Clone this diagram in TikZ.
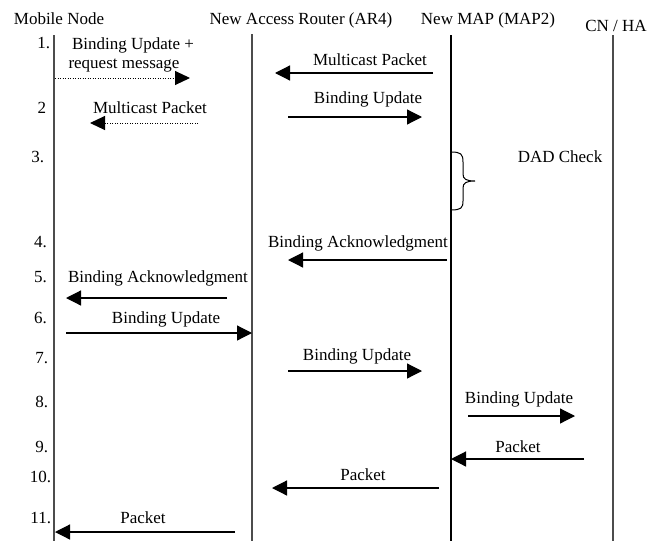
\documentclass[tikz,border=0pt]{standalone}
\usepackage{fontspec}
\setmainfont{Liberation Serif}
\usetikzlibrary{arrows.meta}
\begin{document}
\begin{tikzpicture}[x=1pt,y=-1pt,
  every node/.style={inner sep=0pt,outer sep=0pt,font=\fontsize{17}{20}\selectfont},
  lbl/.style={anchor=base},
  num/.style={anchor=base east},
  life/.style={line width=1.8pt,draw=black!70},
  lifethin/.style={line width=1.3pt,draw=black},
  msg/.style={line width=1.2pt,-{Triangle[length=15pt,width=15pt]}},
  dmsg/.style={line width=1pt,dash pattern=on 1pt off 1.5pt,-{Triangle[length=15pt,width=14pt]}}]
\useasboundingbox (0,0) rectangle (661,541);
% headers
\node[lbl] (hMN) at (59,24) {Mobile Node};
\node[lbl] (hAR) at (301,24) {New Access Router (AR4)};
\node[lbl] (hMAP) at (488,24) {New MAP (MAP2)};
\node[lbl] (hCN) at (616,31) {CN / HA};
% lifelines
\coordinate (mnT) at (54,35); \coordinate (mnB) at (54,541);
\coordinate (arT) at (252,34); \coordinate (arB) at (252,541);
\coordinate (mapT) at (451,35); \coordinate (mapB) at (451,541);
\coordinate (cnT) at (613,35); \coordinate (cnB) at (613,541);
\draw[life] (mnT) -- (mnB);
\draw[life] (arT) -- (arB);
\draw[lifethin] (mapT) -- (mapB);
\draw[life] (cnT) -- (cnB);
% step numbers
\node[num] (n1) at (50,48) {1.};
\node[num] (n2) at (46,113) {2};
\node[num] (n3) at (44,162) {3.};
\node[num] (n4) at (47,247) {4.};
\node[num] (n5) at (47,282) {5.};
\node[num] (n6) at (47,323) {6.};
\node[num] (n7) at (48,363) {7.};
\node[num] (n8) at (48,407) {8.};
\node[num] (n9) at (48,452) {9.};
\node[num] (n10) at (51,482) {10.};
\node[num] (n11) at (51,523) {11.};
% message labels
\node[lbl] (t1a) at (133,49) {Binding Update +};
\node[lbl] (t1b) at (124,68) {request message};
\node[lbl] (t1c) at (370,65) {Multicast Packet};
\node[lbl] (t2a) at (150,113) {Multicast Packet};
\node[lbl] (t2b) at (368,103) {Binding Update};
\node[lbl] (t3) at (560,162) {DAD Check};
\node[lbl] (t4) at (358,247) {Binding Acknowledgment};
\node[lbl] (t5) at (158,282) {Binding Acknowledgment};
\node[lbl] (t6) at (166,323) {Binding Update};
\node[lbl] (t7) at (357,360) {Binding Update};
\node[lbl] (t8) at (519,403) {Binding Update};
\node[lbl] (t9) at (518,452) {Packet};
\node[lbl] (t10) at (363,480) {Packet};
\node[lbl] (t11) at (143,523) {Packet};
% message endpoints
\coordinate (a1s) at (55,78);  \coordinate (a1e) at (190,78);
\coordinate (b1s) at (433,73); \coordinate (b1e) at (275,73);
\coordinate (a2s) at (198,123); \coordinate (a2e) at (90,123);
\coordinate (b2s) at (288,117); \coordinate (b2e) at (422,117);
\coordinate (m4s) at (447,260); \coordinate (m4e) at (288,260);
\coordinate (m5s) at (227,298); \coordinate (m5e) at (66,298);
\coordinate (m6s) at (66,333); \coordinate (m6e) at (252,333);
\coordinate (m7s) at (288,371); \coordinate (m7e) at (422,371);
\coordinate (m8s) at (468,416); \coordinate (m8e) at (575,416);
\coordinate (m9s) at (584,459); \coordinate (m9e) at (451,459);
\coordinate (m10s) at (439,488); \coordinate (m10e) at (272,488);
\coordinate (m11s) at (235,532); \coordinate (m11e) at (55,532);
\draw[dmsg] (a1s) -- (a1e);
\draw[msg] (b1s) -- (b1e);
\draw[dmsg] (a2s) -- (a2e);
\draw[msg] (b2s) -- (b2e);
\draw[msg] (m4s) -- (m4e);
\draw[msg] (m5s) -- (m5e);
\draw[msg] (m6s) -- (m6e);
\draw[msg] (m7s) -- (m7e);
\draw[msg] (m8s) -- (m8e);
\draw[msg] (m9s) -- (m9e);
\draw[msg] (m10s) -- (m10e);
\draw[msg] (m11s) -- (m11e);
% DAD brace
\draw[line width=1pt] (451,152) .. controls (461,152) and (463,154) .. (463,162)
  -- (463,174) .. controls (463,179) and (466,181) .. (475,181)
  .. controls (466,181) and (463,183) .. (463,188)
  -- (463,201) .. controls (463,208) and (461,210) .. (451,210);
\end{tikzpicture}
\end{document}
